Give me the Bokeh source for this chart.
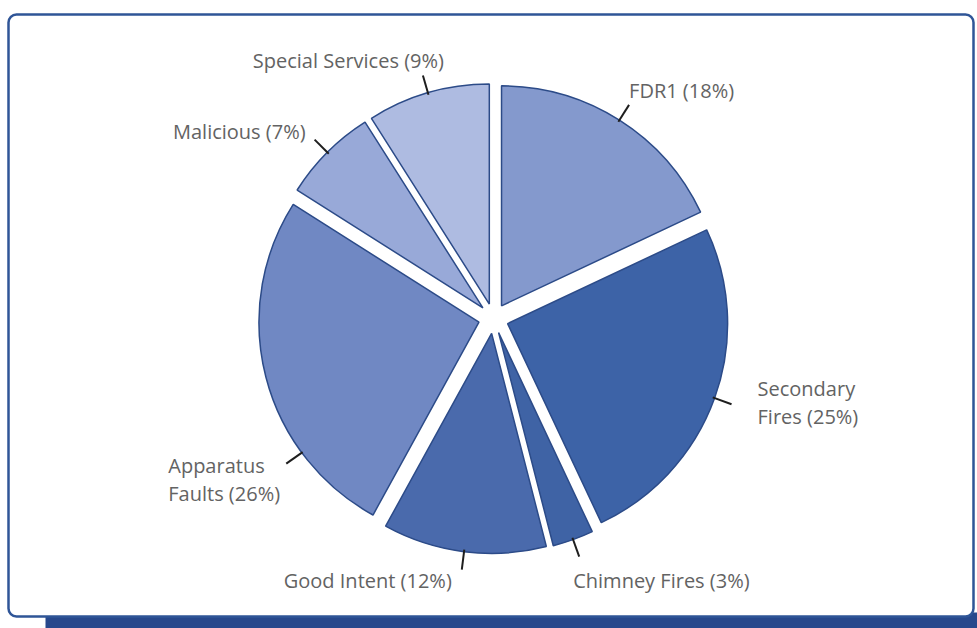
import numpy as np
from bokeh.plotting import figure
from bokeh.models import ColumnDataSource, Range1d, BoxAnnotation
from bokeh.core.properties import value
from bokeh.embed import file_html
from bokeh.resources import INLINE

# ---- data ----
categories = ["FDR1", "Secondary Fires", "Chimney Fires", "Good Intent",
              "Apparatus Faults", "Malicious", "Special Services"]
shares = [18, 25, 3, 12, 26, 7, 9]
label_texts = ["FDR1 (18%)", "Secondary\nFires (25%)", "Chimney Fires (3%)",
               "Good Intent (12%)", "Apparatus\nFaults (26%)", "Malicious (7%)",
               "Special Services (9%)"]

# ---- styles / layout ----
slice_colors = ["#8499cd", "#3d63a7", "#3f63a5", "#4a6aac", "#7088c3", "#98a9d8", "#aebbe1"]
label_align = ["left", "left", "left", "right", "left", "right", "right"]
label_dx = [0, 26, -6, -10, -118, -9, 21]
label_dy = [-14, -2, 24, 11, 16, -8, -15]
leader_shift_deg = [0, 0, 0, 0, 20.6, 0, 0]

W, H = 977, 628
cx, cy = 493, H - 318
R = 220
explode = 15

vals = np.array(shares, dtype=float)
cum = np.cumsum(vals) / vals.sum()
prev = np.concatenate([[0.0], cum[:-1]])
theta_start = np.pi / 2 - 2 * np.pi * prev
theta_end = np.pi / 2 - 2 * np.pi * cum
mid = (theta_start + theta_end) / 2

src = ColumnDataSource(dict(
    x=cx + explode * np.cos(mid),
    y=cy + explode * np.sin(mid),
    start=theta_end,
    end=theta_start,
    color=slice_colors,
    cat=categories,
))

lead = mid + np.radians(leader_shift_deg)
r1, r2 = R + explode - 2, R + explode + 18
lead_src = ColumnDataSource(dict(
    x0=cx + r1 * np.cos(lead), y0=cy + r1 * np.sin(lead),
    x1=cx + r2 * np.cos(lead), y1=cy + r2 * np.sin(lead),
))

lab_src = ColumnDataSource(dict(
    x=cx + r2 * np.cos(lead), y=cy + r2 * np.sin(lead),
    text=label_texts, align=label_align, dx=label_dx, dy=label_dy,
))

p = figure(width=W, height=H, output_backend="svg", toolbar_location=None,
           x_range=Range1d(0, W), y_range=Range1d(0, H), min_border=0,
           background_fill_color="white", border_fill_color="white")
p.axis.visible = False
p.grid.visible = False
p.outline_line_color = None

# blue band below the frame
p.add_layout(BoxAnnotation(left=45, right=W, bottom=0, top=H - 612,
                           fill_color="#27488c", fill_alpha=1, line_color=None,
                           level="underlay"))
# frame
p.add_layout(BoxAnnotation(left=8, right=973, bottom=H - 616, top=H - 14,
                           fill_color="white", fill_alpha=1,
                           line_color="#2f5597", line_alpha=1, line_width=2.5,
                           border_radius=8, level="underlay"))

p.wedge(x="x", y="y", radius=R, start_angle="start", end_angle="end",
        direction="anticlock", fill_color="color", line_color="#2c4b88",
        line_width=1.5, source=src)

p.segment(x0="x0", y0="y0", x1="x1", y1="y1", line_color="#1e1e1e",
          line_width=2, source=lead_src)

p.text(x="x", y="y", text="text", text_align="align", text_baseline="middle",
       x_offset="dx", y_offset="dy", text_font=value("Open Sans"),
       text_font_size="20px", text_color="#636363", text_line_height=1.05,
       source=lab_src)

open("out.html", "w").write(file_html(p, INLINE))
